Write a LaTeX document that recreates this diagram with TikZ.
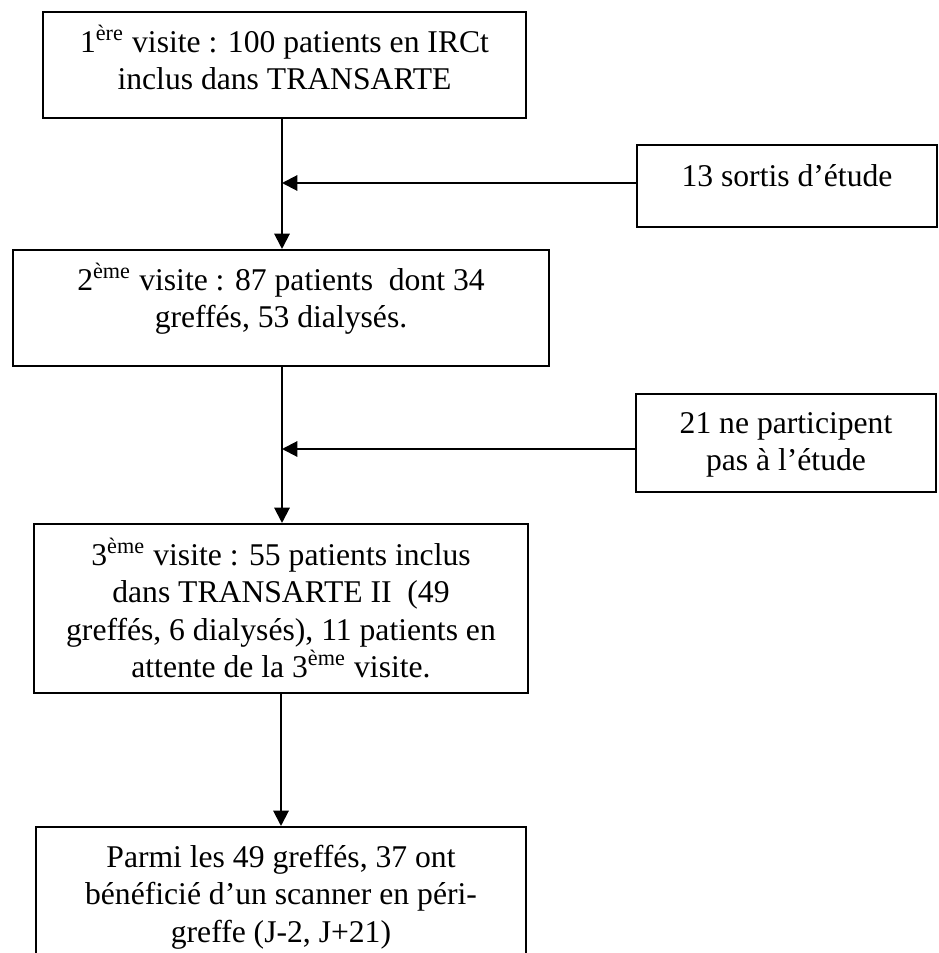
\documentclass[tikz,border=0pt]{standalone}
\usepackage{fontspec}
\setmainfont{Liberation Serif}
\usetikzlibrary{arrows.meta,calc}
\newcommand\topstrut{\rule{0pt}{11pt}}
\begin{document}
\begin{tikzpicture}[x=0.365pt,y=-0.365pt,
  bx/.style 2 args={draw, line width=0.75pt, inner sep=0pt,
    minimum width=#1*0.365pt, minimum height=#2*0.365pt},
  txt/.style={anchor=north, inner sep=0pt, align=center,
    font=\fontsize{11.55}{13.6}\selectfont},
  arr/.style={line width=0.75pt, -{Triangle[length=5.6pt,width=5.6pt]}}]
\useasboundingbox (0,0) rectangle (938,953);
\clip (0,0) rectangle (938,953);
% boxes
\node[bx={483}{106}] (b1) at (284.5,65) {};
\node[bx={300}{82}] (b13) at (787,186) {};
\node[bx={536}{116}] (b2) at (281,308) {};
\node[bx={300}{98}] (b21) at (786,443) {};
\node[bx={494}{169}] (b3) at (281,608.5) {};
\node[bx={490}{200}] (b4) at (281,927) {};
% texts
\node[txt] (t1) at ($(b1.north)+(0,11)$) {\topstrut 1\textsuperscript{ère} visite : 100 patients en IRCt\\inclus dans TRANSARTE};
\node[txt] (t13) at ($(b13.north)+(0,12)$) {\topstrut 13 sortis d’étude};
\node[txt] (t2) at ($(b2.north)+(0,11)$) {\topstrut 2\textsuperscript{ème} visite : 87 patients\ \ dont 34\\greffés, 53 dialysés.};
\node[txt] (t21) at ($(b21.north)+(0,10)$) {\topstrut 21 ne participent\\pas à l’étude};
\node[txt] (t3) at ($(b3.north)+(0,12)$) {\topstrut 3\textsuperscript{ème} visite : 55 patients inclus\\dans TRANSARTE II\ \ (49\\greffés, 6 dialysés), 11 patients en\\attente de la 3\textsuperscript{ème} visite.};
\node[txt] (t4) at ($(b4.north)+(0,11)$) {\topstrut Parmi les 49 greffés, 37 ont\\bénéficié d’un scanner en péri-\\greffe (J-2, J+21)};
% connectors
\coordinate (j1) at (282,183);
\coordinate (j2) at (282,449);
\coordinate (j3) at (281,700);
\draw[arr] (b1.south -| j1) -- (b2.north -| j1);
\draw[arr] (b13.west |- j1) -- (j1);
\draw[arr] (b2.south -| j2) -- (b3.north -| j2);
\draw[arr] (b21.west |- j2) -- (j2);
\draw[arr] (b3.south -| j3) -- (b4.north -| j3);
\end{tikzpicture}
\end{document}
